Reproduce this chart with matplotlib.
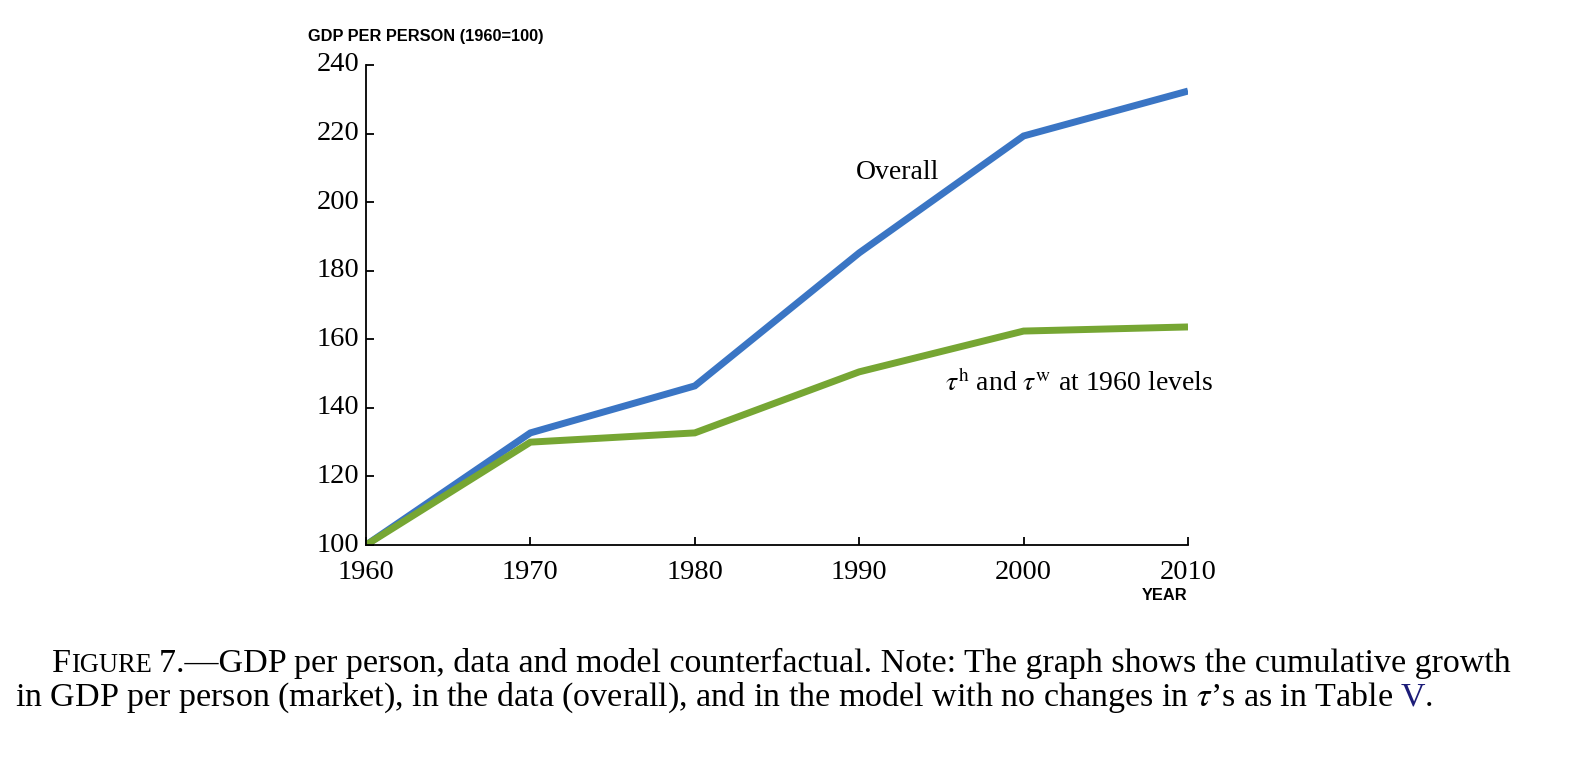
import matplotlib
matplotlib.use("Agg")
import matplotlib.pyplot as plt

years = [1960, 1970, 1980, 1990, 2000, 2010]
overall = [100, 132.7, 146.4, 185.2, 219.3, 232.4]
fixed_tau = [100, 130.0, 132.7, 150.5, 162.4, 163.6]
y_ticks = [100, 120, 140, 160, 180, 200, 220, 240]

plt.rcParams['font.family'] = ['Liberation Serif', 'DejaVu Serif']
plt.rcParams['mathtext.fontset'] = 'stix'

W, H = 1581, 769
fig = plt.figure(figsize=(W / 100, H / 100), dpi=100)
ax = fig.add_axes([366 / W, 1 - 545 / H, (1188 - 366) / W, (545 - 65) / H])

ax.plot(years, overall, color='#3a75c4', lw=5, solid_joinstyle='miter', solid_capstyle='butt')
ax.plot(years, fixed_tau, color='#76a633', lw=5, solid_joinstyle='miter', solid_capstyle='butt')

ax.set_xlim(1960, 2010)
ax.set_ylim(100, 240)
ax.set_xticks(years)
ax.set_yticks(y_ticks)
ax.spines['top'].set_visible(False)
ax.spines['right'].set_visible(False)
for s in ('left', 'bottom'):
    ax.spines[s].set_linewidth(1.3)
ax.tick_params(direction='in', length=6, width=1.3, labelsize=20.5)
ax.tick_params(axis='x', pad=11)
ax.tick_params(axis='y', pad=5)
for lab in ax.get_yticklabels():
    lab.set_verticalalignment('center')

ax.text(1989.8, 208.5, "Overall", fontsize=20, ha='left', va='center')
ax.text(1995.2, 147.3, r"$\tau^{\rm h}$ and $\tau^{\rm w}$ at 1960 levels", fontsize=20,
        ha='left', va='center')

sans = ['Liberation Sans', 'DejaVu Sans']
fig.text(308 / W, 1 - 36 / H, "GDP PER PERSON (1960=100)", family=sans, weight='bold',
         fontsize=11.8, ha='left', va='center')
fig.text(1187 / W, 1 - 596 / H, "YEAR", family=sans, weight='bold',
         fontsize=11.8, ha='right', va='center')

# caption: pieces placed one after another on a common baseline
cap = 24.5
renderer = fig.canvas.get_renderer()


def run(x0, y_base, pieces):
    x = x0
    for txt, size, color, gap in pieces:
        x += gap
        t = fig.text(x / W, 1 - y_base / H, txt, fontsize=size, color=color,
                     ha='left', va='baseline')
        x = t.get_window_extent(renderer).x1


run(52, 672, [
    ("F", cap, 'black', 0),
    ("IGURE", cap * 0.78, 'black', 0),
    ("7.\u2014GDP per person, data and model counterfactual. Note: The graph shows the cumulative growth",
     cap, 'black', 7),
])
run(15, 706, [
    (r"in GDP per person (market), in the data (overall), and in the model with no changes in $\tau$’s as in Table",
     cap, 'black', 0),
    ("V", cap, '#1c1c78', 7),
    (".", cap, 'black', 0),
])

fig.savefig("out.png", dpi=100)
